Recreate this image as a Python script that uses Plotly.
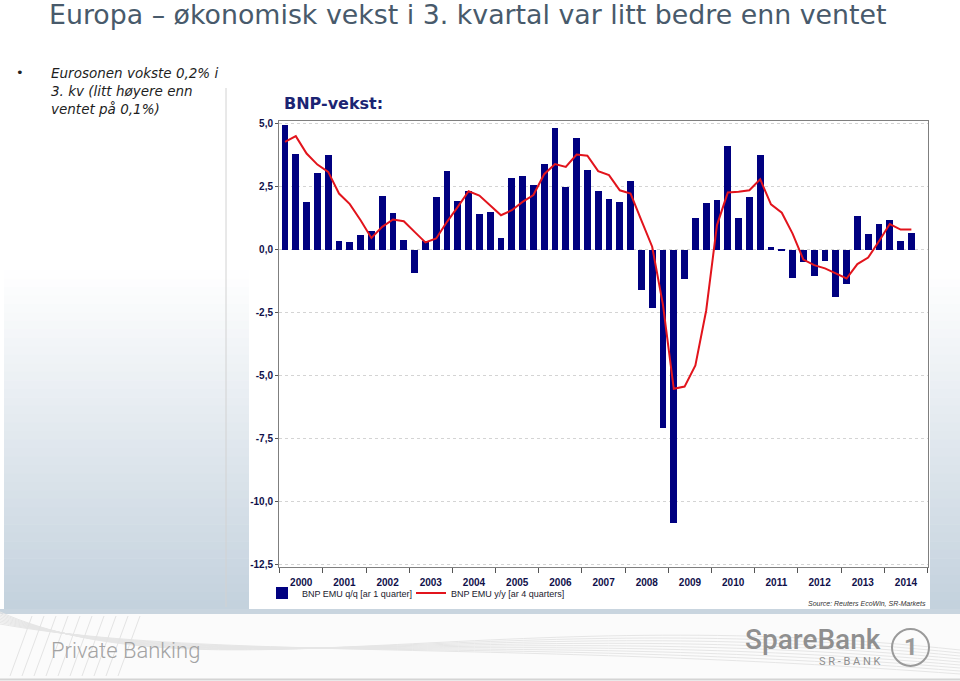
import plotly.graph_objects as go

# ---------------- data ----------------
year_labels = ["2000", "2001", "2002", "2003", "2004", "2005", "2006", "2007",
               "2008", "2009", "2010", "2011", "2012", "2013", "2014"]
quarters = [f"{y}Q{q}" for y in year_labels for q in (1, 2, 3, 4)][:59]

# BNP EMU q/q, annualised (ar 1 quarter)
qq_values = [4.93, 3.78, 1.87, 3.04, 3.74, 0.33, 0.30, 0.58, 0.73, 2.13,
             1.44, 0.36, -0.93, 0.33, 2.08, 3.10, 1.93, 2.31, 1.40, 1.47,
             0.45, 2.84, 2.92, 2.55, 3.41, 4.83, 2.49, 4.43, 3.17, 2.31,
             2.02, 1.87, 2.71, -1.59, -2.33, -7.09, -10.85, -1.16, 1.27, 1.83,
             1.96, 4.11, 1.27, 2.09, 3.74, 0.11, -0.05, -1.15, -0.49, -1.04,
             -0.45, -1.90, -1.38, 1.32, 0.60, 1.02, 1.19, 0.32, 0.66]

# BNP EMU y/y (ar 4 quarters)
yy_values = [4.27, 4.50, 3.81, 3.37, 3.08, 2.22, 1.80, 1.16, 0.46, 0.90,
             1.19, 1.12, 0.70, 0.28, 0.44, 1.10, 1.69, 2.31, 2.14, 1.76,
             1.36, 1.56, 1.89, 2.16, 2.99, 3.39, 3.28, 3.77, 3.72, 3.11,
             2.95, 2.35, 2.22, 1.16, 0.11, -2.20, -5.53, -5.44, -4.60, -2.42,
             0.97, 2.26, 2.29, 2.35, 2.79, 1.79, 1.46, 0.63, -0.40, -0.62,
             -0.75, -0.95, -1.15, -0.58, -0.32, 0.33, 1.01, 0.79, 0.79]

y_tick_values = [5.0, 2.5, 0.0, -2.5, -5.0, -7.5, -10.0, -12.5]
y_tick_labels = ["5,0", "2,5", "0,0", "-2,5", "-5,0", "-7,5", "-10,0", "-12,5"]

# quarter -> decimal-year position (centre of quarter)
x_pos = [int(q[:4]) + (int(q[-1]) - 0.5) / 4 for q in quarters]
year_centres = [int(y) + 0.5 for y in year_labels]
year_bounds = [int(y) for y in year_labels] + [int(year_labels[-1]) + 1]

# ---------------- geometry helpers ----------------
W, H = 960, 681
ML, MR, MT, MB = 279, 32, 121, 114
PW = W - ML - MR
PH = H - MT - MB


def px(x):
    return (x - ML) / PW


def py(y):
    return (H - MB - y) / PH


fig = go.Figure()
fig.add_trace(go.Bar(
    x=x_pos, y=qq_values, width=0.155,
    marker=dict(color="#000080", line=dict(width=0)),
    name="BNP EMU q/q [ar 1 quarter]", legendwidth=104,
))
fig.add_trace(go.Scatter(
    x=x_pos, y=yy_values, mode="lines",
    line=dict(color="#e2141c", width=2),
    name="BNP EMU y/y [ar 4 quarters]", legendwidth=130,
))

# ---------------- background shapes ----------------
shapes = []
# gradient bands (slide background)
g_top, g_bot = 270, 609
nb = 40
c0 = (255, 255, 255)
c1 = (195, 209, 221)
for i in range(nb):
    y0 = g_top + (g_bot - g_top) * i / nb
    y1 = g_top + (g_bot - g_top) * (i + 1) / nb
    f = (i + 0.5) / nb
    col = "rgb(%d,%d,%d)" % tuple(round(a + (b - a) * f) for a, b in zip(c0, c1))
    shapes.append(dict(type="rect", xref="paper", yref="paper",
                       x0=px(4), x1=px(960), y0=py(y1 + 0.6), y1=py(y0),
                       fillcolor=col, line=dict(width=0), layer="below"))
# thin strip above footer
shapes.append(dict(type="rect", xref="paper", yref="paper",
                   x0=px(0), x1=px(960), y0=py(614), y1=py(609),
                   fillcolor="#c9d5df", line=dict(width=0), layer="below"))
# footer light tone
shapes.append(dict(type="rect", xref="paper", yref="paper",
                   x0=px(0), x1=px(960), y0=py(679), y1=py(614),
                   fillcolor="#fbfbfb", line=dict(width=0), layer="below"))
shapes.append(dict(type="line", xref="paper", yref="paper",
                   x0=px(0), x1=px(960), y0=py(679.5), y1=py(679.5),
                   line=dict(color="#d4d4d4", width=2), layer="below"))
# footer swooshes
for k in range(9):
    d = k * 5
    path = "M %f,%f C %f,%f %f,%f %f,%f" % (
        px(0), py(612 + d * 0.3),
        px(200), py(700 - d),
        px(500), py(600 + d),
        px(960), py(650 + d * 0.6))
    shapes.append(dict(type="path", xref="paper", yref="paper", path=path,
                       line=dict(color="#e6e6e6", width=1), layer="below"))
for k in range(10):
    xs = 10 + k * 12
    shapes.append(dict(type="line", xref="paper", yref="paper",
                       x0=px(xs), x1=px(xs + 22), y0=py(676), y1=py(616),
                       line=dict(color="#e4e4e4", width=1), layer="below"))
# chart panel
shapes.append(dict(type="rect", xref="paper", yref="paper",
                   x0=px(249), x1=px(930), y0=py(609), y1=py(88),
                   fillcolor="white", line=dict(width=0), layer="below"))
# vertical separator
shapes.append(dict(type="line", xref="paper", yref="paper",
                   x0=px(226), x1=px(226), y0=py(607), y1=py(88),
                   line=dict(color="#d2d2d2", width=1), layer="below"))
# logo circle
shapes.append(dict(type="circle", xref="paper", yref="paper",
                   x0=px(892), x1=px(929), y0=py(666), y1=py(629),
                   line=dict(color="#9a9a9a", width=2), layer="above"))

# ---------------- annotations ----------------
ann = []


def text(x, y, s, size, color, family="DejaVu Sans", xanchor="left",
         weight="normal", style="normal", yanchor="middle"):
    ann.append(dict(x=px(x), y=py(y), xref="paper", yref="paper", text=s,
                    showarrow=False, xanchor=xanchor, yanchor=yanchor,
                    font=dict(family=family, size=size, color=color,
                              weight=weight, style=style)))


text(47, 15, "Europa – økonomisk vekst i 3. kvartal var litt bedre enn ventet",
     26.8, "#485a6b")
text(14, 73, "•", 13, "#222222")
text(49, 73, "Eurosonen vokste 0,2% i", 13.5, "#1e1e1e", style="italic")
text(49, 91, "3. kv (litt høyere enn", 13.5, "#1e1e1e", style="italic")
text(49, 109, "ventet på 0,1%)", 13.5, "#1e1e1e", style="italic")
text(282, 103, "BNP-vekst:", 16, "#1b2473", weight="bold")
text(928, 603, "Source: Reuters EcoWin, SR-Markets", 7, "#333333",
     family="Liberation Sans", xanchor="right", style="italic")
text(49, 650, "Private Banking", 22, "#a3a3a3", family="Roboto", weight=300)
text(883, 639, "SpareBank", 28, "#8f8f8f", family="Roboto", xanchor="right",
     weight=500)
text(883, 661, "S R - B A N K", 11, "#8f8f8f", family="Roboto", xanchor="right")
text(911, 647, "1", 24, "#9a9a9a", family="Roboto", xanchor="center",
     weight="bold")

fig.update_layout(
    width=W, height=H,
    margin=dict(l=ML, r=MR, t=MT, b=MB, pad=0),
    paper_bgcolor="white", plot_bgcolor="white",
    separators=",.",
    bargap=0,
    showlegend=True,
    legend=dict(orientation="h", x=px(262), y=py(593), xanchor="left",
                yanchor="middle", bgcolor="rgba(0,0,0,0)",
                font=dict(family="Liberation Sans", size=9, color="#1a1a2e"),
                itemclick=False),
    shapes=shapes,
    annotations=ann,
    xaxis=dict(range=[1999.986, 2015.01], tickmode="array",
               tickvals=year_centres, ticktext=year_labels, ticks="",
               showgrid=False, zeroline=False, showline=True, mirror=True,
               linecolor="#7f7f7f", linewidth=1, ticklabelstandoff=6,
               tickfont=dict(family="Liberation Sans", size=10,
                             color="#10104a", weight="bold"),
               minor=dict(tickmode="array", tickvals=year_bounds,
                          ticks="outside", ticklen=5, tickcolor="#555555",
                          showgrid=False)),
    yaxis=dict(range=[-12.6, 5.1], tickmode="array", tickvals=y_tick_values,
               ticktext=y_tick_labels, ticks="outside", ticklen=3,
               tickcolor="#555555", showgrid=True, gridcolor="#d4d4d4",
               griddash="dot", gridwidth=1, zeroline=False, showline=True,
               mirror=True, linecolor="#7f7f7f", linewidth=1,
               tickfont=dict(family="Liberation Sans", size=10,
                             color="#10104a", weight="bold")),
)

fig.write_html("out.html", config={"displayModeBar": False},
               post_script="document.body.style.margin='0';")
